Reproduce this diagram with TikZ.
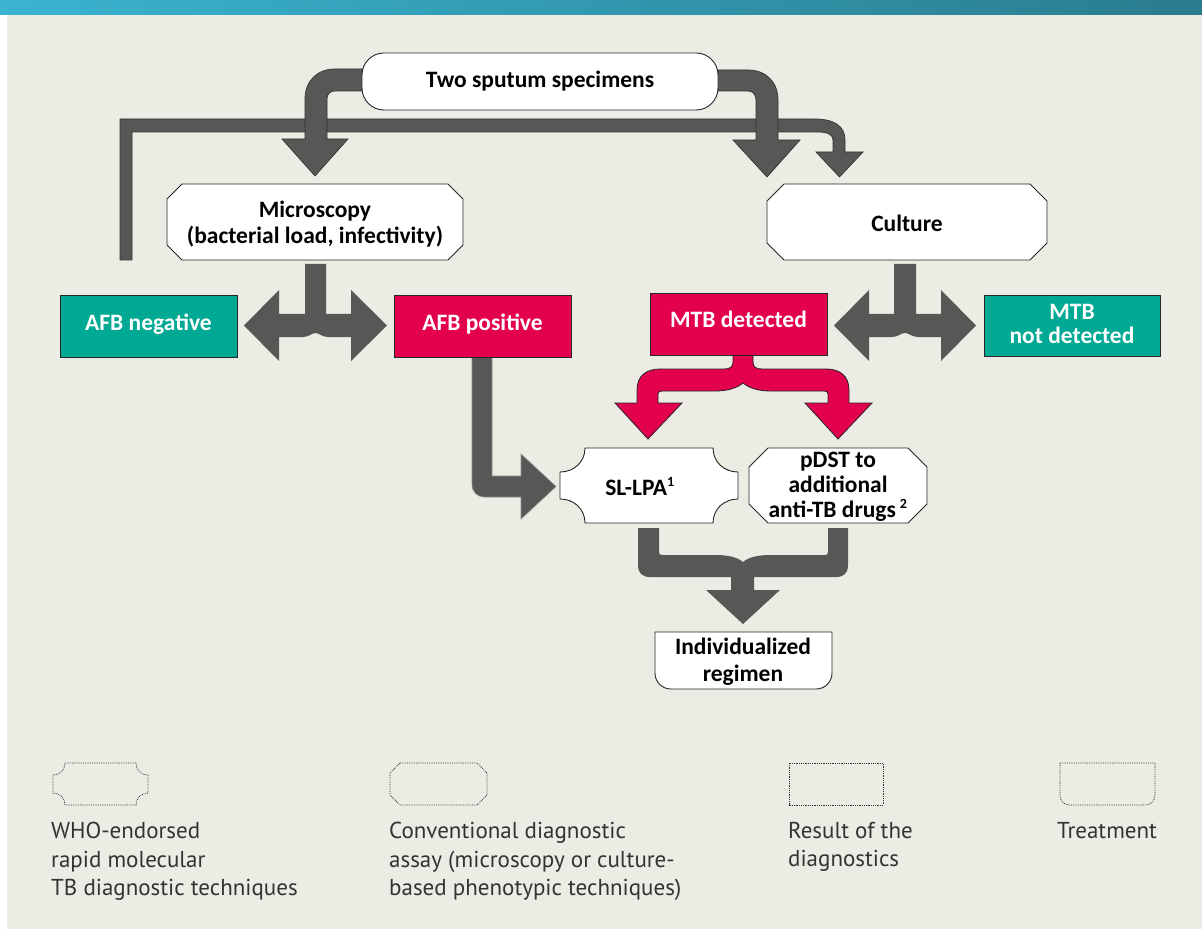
\documentclass[tikz,border=0pt]{standalone}
\usepackage{fontspec}
\setmainfont{Carlito}
\newfontfamily\legendfont{PT Sans}
\definecolor{bgc}{HTML}{ECEBE4}
\definecolor{tealc}{HTML}{00A993}
\definecolor{redc}{HTML}{E3004F}
\definecolor{arrowc}{HTML}{575756}
\definecolor{barL}{HTML}{3AB4D0}
\definecolor{barR}{HTML}{2A7C8E}
\newcommand{\octshape}[6]{\path[#6] ({#1+#5},{#2}) -- ({#3-#5},{#2}) -- ({#3},{#2+#5}) -- ({#3},{#4-#5}) -- ({#3-#5},{#4}) -- ({#1+#5},{#4}) -- ({#1},{#4-#5}) -- ({#1},{#2+#5}) -- cycle;}
\begin{document}
\begin{tikzpicture}[x=1pt,y=-1pt,
  box/.style={fill=white, draw=black!85, line width=0.9pt},
  grayarrow/.style={fill=arrowc, draw=none},
  grayarrowo/.style={fill=arrowc, draw=black!80, line width=0.7pt},
  redarrow/.style={fill=redc, draw=black!85, line width=0.8pt},
  resbox/.style={draw=black!85, line width=0.9pt},
  lbl/.style={font=\fontsize{23.5}{25.5}\selectfont\bfseries, align=center, inner sep=0pt, text=black},
  wlbl/.style={lbl, text=white},
  legtxt/.style={font=\legendfont\fontsize{23}{28.5}\selectfont, align=left, inner sep=0pt, text=black!80, anchor=north west},
  legbox/.style={draw=black!80, densely dotted, line width=0.8pt},
]
\useasboundingbox (0,0) rectangle (1202,933);
\fill[white] (0,0) rectangle (1202,933);
\fill[bgc] (7,0) rectangle (1202,929);
\shade[left color=barL, right color=barR] (0,0) rectangle (1202,15);

% feedback bar from left to culture
\path[grayarrowo] (120,260) -- (120,119) -- (815,119) .. controls (834,119) and (845,126) .. (845,140) -- (845,152) -- (863,152) -- (839.5,177) -- (816,152) -- (833,152) -- (833,140) .. controls (833,135) and (828,132) .. (818,132) -- (132,132) -- (132,260) -- cycle;

% left top arrow
\path[grayarrowo] (364,69) -- (335,69) .. controls (317,69) and (305,81) .. (305,99) -- (305,139) -- (282,139) -- (315,176) -- (348,139) -- (327,139) -- (327,99) .. controls (327,94) and (330,91) .. (335,91) -- (364,91) -- cycle;
% right top arrow
\path[grayarrowo] (716,70) -- (748,70) .. controls (766,70) and (778,82) .. (778,100) -- (778,140) -- (800,140) -- (767,177) -- (733,140) -- (756,140) -- (756,100) .. controls (756,95) and (753,91) .. (748,91) -- (716,91) -- cycle;

% microscopy split arrow
\path[grayarrow] (305,264) -- (305,314) -- (279,314) -- (279,290) -- (244,325.5) -- (279,361) -- (279,337) -- (303,337) .. controls (309,337) and (312,333) .. (315.5,333) .. controls (319,333) and (322,337) .. (328,337) -- (351,337) -- (351,361) -- (387,325.5) -- (351,290) -- (351,314) -- (326,314) -- (326,264) -- cycle;
% culture split arrow
\path[grayarrow] (894,264) -- (894,314) -- (869,314) -- (869,290) -- (834,325.5) -- (869,361) -- (869,337) -- (892,337) .. controls (898,337) and (901,333) .. (905,333) .. controls (909,333) and (912,337) .. (918,337) -- (941,337) -- (941,361) -- (976,325.5) -- (941,290) -- (941,314) -- (916,314) -- (916,264) -- cycle;

% AFB positive to SL-LPA
\path[fill=arrowc, draw=black!45, line width=0.6pt] (472,357) -- (472,484) .. controls (472,492) and (477,497) .. (485,497) -- (521,497) -- (521,519) -- (556,486.5) -- (521,454) -- (521,476) -- (492,476) -- (492,357) -- cycle;

% red split arrow
\path[redarrow] (733,354) -- (733,362) .. controls (733,367) and (730,369) .. (724,369) -- (660,369) .. controls (646,369) and (637,376) .. (637,390) -- (637,403) -- (615,403) -- (648,439) -- (682,403) -- (658,403) -- (658,394) .. controls (658,392) and (659,391) .. (662,391) -- (715,391) .. controls (728,391) and (737,388) .. (743,383) .. controls (749,388) and (758,391) .. (771,391) -- (824,391) .. controls (827,391) and (828,392) .. (828,394) -- (828,403) -- (805,403) -- (838,439) -- (872,403) -- (849,403) -- (849,390) .. controls (849,376) and (840,369) .. (826,369) -- (762,369) .. controls (756,369) and (753,367) .. (753,362) -- (753,354) -- cycle;

% merge arrow
\path[grayarrow] (638,528) -- (638,565) .. controls (638,573) and (642,577) .. (650,577) -- (731,577) -- (731,590) -- (706,590) -- (743,624) -- (780,590) -- (754,590) -- (754,577) -- (836,577) .. controls (844,577) and (848,573) .. (848,565) -- (848,528) -- (828,528) -- (828,552) .. controls (828,554) and (827,555) .. (825,555) -- (771,555) .. controls (758,555) and (749,557) .. (743,562) .. controls (737,557) and (728,555) .. (715,555) -- (662,555) .. controls (660,555) and (659,554) .. (659,552) -- (659,528) -- cycle;

% boxes
\path[box, rounded corners=22pt] (362,53) rectangle (718,110);
\node[lbl] (sputum) at (540,81) {Two sputum specimens};

\octshape{167}{184}{463}{260}{15}{box}
\node[lbl, font=\fontsize{23.5}{26}\selectfont\bfseries] (micro) at (315,224) {Microscopy\\(bacterial load, infectivity)};

\octshape{767}{184}{1047}{260}{17}{box}
\node[lbl] (culture) at (907,223) {Culture};

\path[resbox, fill=tealc] (60,295) rectangle (237,357);
\node[wlbl] (afbneg) at (148.5,324) {AFB negative};
\path[resbox, fill=redc] (394,295) rectangle (571,357);
\node[wlbl] (afbpos) at (482.5,324) {AFB positive};
\path[resbox, fill=redc] (650,293) rectangle (827,355);
\node[wlbl] (mtbdet) at (738.5,319) {MTB detected};
\path[resbox, fill=tealc] (984,295) rectangle (1160,356);
\node[wlbl, font=\fontsize{23.5}{24}\selectfont\bfseries] (mtbnot) at (1072,324) {MTB\\not detected};

\path[box] (585,448) -- (713,448) .. controls (713,462) and (724,472) .. (738,472) -- (738,499) .. controls (724,499) and (713,509) .. (713,523) -- (585,523) .. controls (585,509) and (574,499) .. (560,499) -- (560,472) .. controls (574,472) and (585,462) .. (585,448) -- cycle;
\node[lbl] (sllpa) at (640,487) {SL-LPA\textsuperscript{\fontsize{14}{14}\selectfont 1}};

\octshape{749}{448}{927}{523}{19}{box}
\node[lbl, font=\fontsize{23.5}{25}\selectfont\bfseries] (pdst) at (838,487) {pDST to\\additional\\anti-TB drugs\,\textsuperscript{\fontsize{14}{14}\selectfont 2}};

\path[box] (655,632) -- (832,632) -- (832,673) .. controls (832,682) and (825,689) .. (816,689) -- (671,689) .. controls (662,689) and (655,682) .. (655,673) -- cycle;
\node[lbl, font=\fontsize{23.5}{27}\selectfont\bfseries] (regimen) at (743,662) {Individualized\\regimen};

% legend
\path[legbox] (65,763) -- (136,763) .. controls (136,770) and (141,775) .. (148,775) -- (148,793) .. controls (141,793) and (136,798) .. (136,805) -- (65,805) .. controls (65,798) and (60,793) .. (53,793) -- (53,775) .. controls (60,775) and (65,770) .. (65,763) -- cycle;
\octshape{390}{763}{487}{805}{10}{legbox}
\path[legbox] (789,763) rectangle (883,805);
\path[legbox] (1060,763) -- (1155,763) -- (1155,795) .. controls (1155,801) and (1151,805) .. (1145,805) -- (1070,805) .. controls (1064,805) and (1060,801) .. (1060,795) -- cycle;

\node[legtxt] (leg1) at (51,822) {WHO-endorsed\\rapid molecular\\TB diagnostic techniques};
\node[legtxt] (leg2) at (389,822) {Conventional diagnostic\\assay (microscopy or culture-\\based phenotypic techniques)};
\node[legtxt] (leg3) at (788,822) {Result of the\\diagnostics};
\node[legtxt] (leg4) at (1057,822) {Treatment};
\end{tikzpicture}
\end{document}
